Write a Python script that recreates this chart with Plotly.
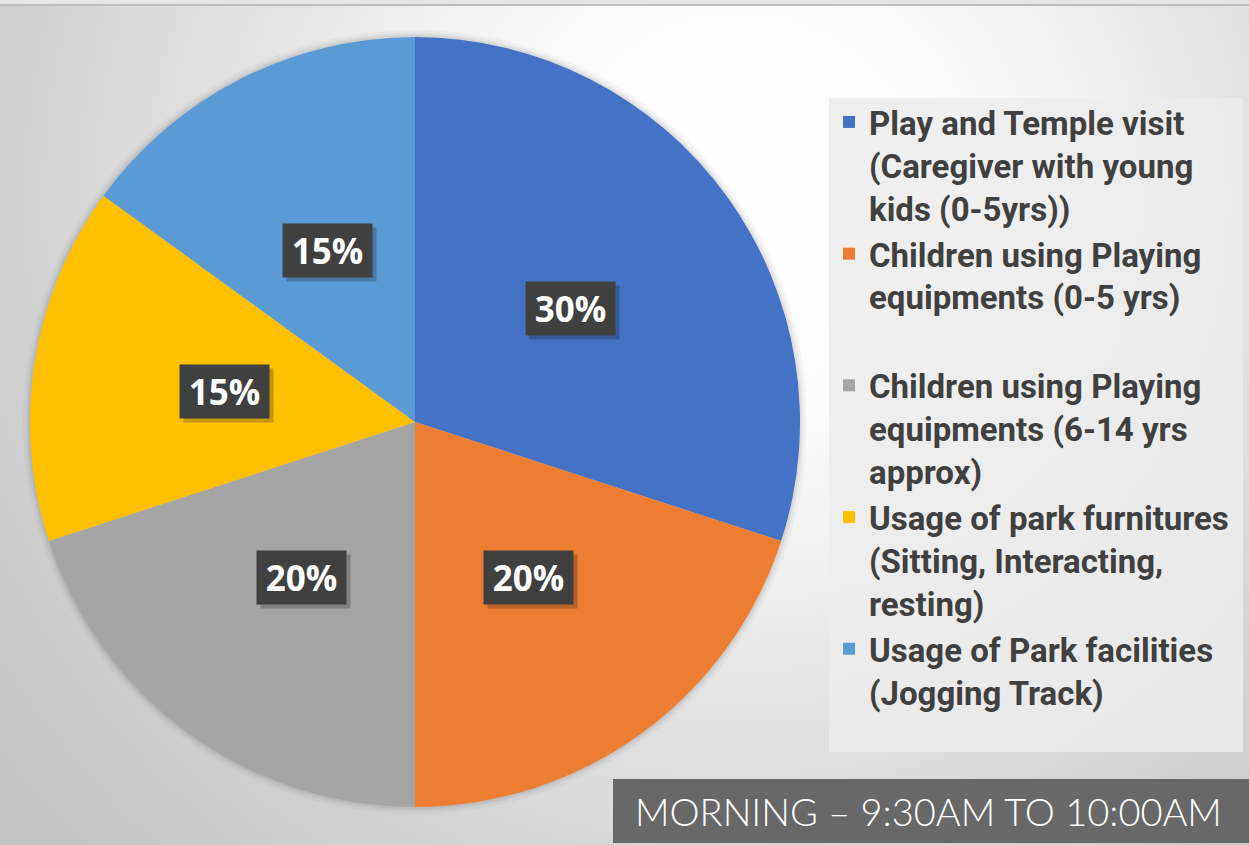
import math, base64
import plotly.graph_objects as go

W, H = 1249, 845

categories = [
    "Play and Temple visit<br>(Caregiver with young<br>kids (0-5yrs))",
    "Children using Playing<br>equipments (0-5 yrs)<br> ",
    "Children using Playing<br>equipments (6-14 yrs<br>approx)",
    "Usage of park furnitures<br>(Sitting, Interacting,<br>resting)",
    "Usage of Park facilities<br>(Jogging Track)",
]
values = [30, 20, 20, 15, 15]
colors = ["#4472C4", "#ED7D31", "#A5A5A5", "#FFC000", "#5B9BD5"]
title_text = "MORNING \u2013 9:30AM TO 10:00AM"

# pie geometry (pixels)
cx, cy, R = 415, 422, 385
dom_x = [(cx - R) / W, (cx + R) / W]
dom_y = [1 - (cy + R) / H, 1 - (cy - R) / H]

fig = go.Figure()
fig.add_trace(go.Pie(
    labels=categories, values=values, sort=False, direction="clockwise",
    rotation=0, marker=dict(colors=colors, line=dict(width=0)),
    textinfo="none", hoverinfo="label+percent",
    domain=dict(x=dom_x, y=dom_y), showlegend=True,
))

# background radial gradient as svg image
svg = f'''<svg xmlns="http://www.w3.org/2000/svg" width="{W}" height="{H}">
<defs><radialGradient id="g" gradientUnits="userSpaceOnUse" cx="740" cy="200" r="950">
<stop offset="0" stop-color="#FFFFFF"/><stop offset="0.25" stop-color="#FBFBFB"/>
<stop offset="0.75" stop-color="#D2D2D2"/><stop offset="1" stop-color="#C4C4C4"/></radialGradient></defs>
<rect x="0" y="0" width="{W}" height="{H}" fill="url(#g)"/>
<rect x="0" y="0" width="{W}" height="4" fill="#E6E6E6"/>
<rect x="0" y="4" width="{W}" height="2" fill="#BDBDBD"/>
</svg>'''
src = "data:image/svg+xml;base64," + base64.b64encode(svg.encode()).decode()
fig.add_layout_image(dict(source=src, xref="paper", yref="paper", x=0, y=1,
                          sizex=1, sizey=1, sizing="stretch", xanchor="left",
                          yanchor="top", layer="below"))

def px2paper(x, y):
    return x / W, 1 - y / H

# soft shadow around the pie
for extra, alpha in [(7, 0.03), (4, 0.04), (2, 0.05)]:
    a0, b0 = px2paper(cx - R - extra, cy + R + extra)
    a1, b1 = px2paper(cx + R + extra, cy - R - extra)
    fig.add_shape(type="circle", xref="paper", yref="paper", x0=a0, y0=b0, x1=a1, y1=b1,
                  fillcolor=f"rgba(0,0,0,{alpha})", line=dict(width=0), layer="below")

# legend background box
x0, y0 = px2paper(829, 752)
x1, y1 = px2paper(1243, 98)
fig.add_shape(type="rect", xref="paper", yref="paper", x0=x0, y0=y0, x1=x1, y1=y1,
              fillcolor="rgba(236,236,236,0.85)", line=dict(width=0), layer="below")

# title box
x0, y0 = px2paper(613, 843)
x1, y1 = px2paper(W, 779)
fig.add_shape(type="rect", xref="paper", yref="paper", x0=x0, y0=y0, x1=x1, y1=y1,
              fillcolor="#686868", line=dict(width=0), layer="below")
tx, ty = px2paper(633, 811)
fig.add_annotation(x=tx, y=ty, xref="paper", yref="paper", xanchor="left", yanchor="middle",
                   text=title_text, showarrow=False,
                   font=dict(family="Lato", size=38, color="white", weight=300))

# percent labels
total = sum(values)
cum = 0
for v in values:
    theta = 2 * math.pi * (cum + v / 2) / total
    cum += v
    lx = cx + 0.5 * R * math.sin(theta)
    ly = cy - 0.5 * R * math.cos(theta)
    ax, ay = px2paper(lx, ly)
    pct = f"{round(100 * v / total)}%"
    fig.add_annotation(x=ax, y=ay, xref="paper", yref="paper", text=" ", showarrow=False,
                       xanchor="center", yanchor="middle",
                       width=87, height=51, bgcolor="rgba(0,0,0,0.22)", xshift=4, yshift=-4,
                       font=dict(size=30))
    fig.add_annotation(x=ax, y=ay, xref="paper", yref="paper", text=pct, showarrow=False,
                       xanchor="center", yanchor="middle",
                       width=87, height=51, bgcolor="#404040",
                       font=dict(family="Open Sans", size=35, color="white", weight="bold"))

lx0, ly0 = px2paper(829, 94)
fig.update_layout(
    width=W, height=H, autosize=False, margin=dict(l=0, r=0, t=0, b=0),
    paper_bgcolor="#D8D8D8",
    legend=dict(x=lx0, y=ly0, xanchor="left", yanchor="top", valign="top",
                bgcolor="rgba(0,0,0,0)", traceorder="normal",
                font=dict(family="Roboto", size=33, color="#404040", weight="bold")),
)
post = ("document.body.style.margin='0';document.body.style.overflow='hidden';"
        "var gd=document.getElementById('{plot_id}');gd.style.width='1249px';gd.style.height='845px';"
        "Plotly.relayout(gd,{width:1249,height:845,autosize:false});")
fig.write_html("out.html", config={"responsive": False, "displayModeBar": False},
               post_script=post)
